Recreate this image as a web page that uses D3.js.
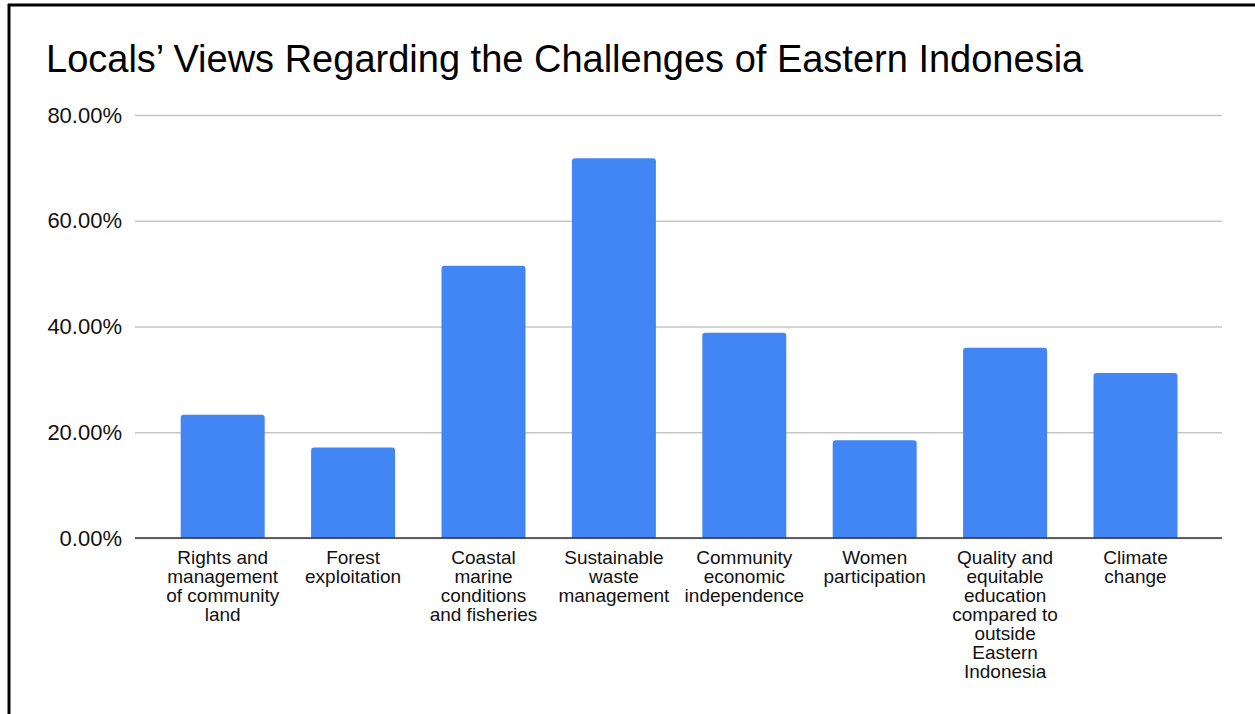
<!DOCTYPE html>
<html>
<head>
<meta charset="utf-8">
<script src="https://cdn.jsdelivr.net/npm/d3@7"></script>
<style>
  body { margin: 0; background: #fff; }
  svg { display: block; font-family: "Liberation Sans", Arial, sans-serif; }
</style>
</head>
<body>
<script>
const categories = [
  ["Rights and", "management", "of community", "land"],
  ["Forest", "exploitation"],
  ["Coastal", "marine", "conditions", "and fisheries"],
  ["Sustainable", "waste", "management"],
  ["Community", "economic", "independence"],
  ["Women", "participation"],
  ["Quality and", "equitable", "education", "compared to", "outside", "Eastern", "Indonesia"],
  ["Climate", "change"]
];
const values = [0.233, 0.171, 0.515, 0.718, 0.388, 0.185, 0.360, 0.312];
const yTicks = [0, 0.2, 0.4, 0.6, 0.8];
const title = "Locals\u2019 Views Regarding the Challenges of Eastern Indonesia";

const width = 1255,
      height = 714,
      plotLeft = 135,
      plotRight = 1222,
      plotTop = 115,
      plotBottom = 538;

let svg = d3.select('body')
            .append('svg')
            .attr('width', width)
            .attr('height', height);

// frame (top and left edges visible)
svg.append('line')
   .attr('x1', 8).attr('x2', width).attr('y1', 5).attr('y2', 5)
   .attr('stroke', '#000').attr('stroke-width', 3);
svg.append('line')
   .attr('x1', 9).attr('x2', 9).attr('y1', 4).attr('y2', height)
   .attr('stroke', '#000').attr('stroke-width', 3);

svg.append('text')
   .attr('x', 46)
   .attr('y', 72)
   .attr('font-size', 38)
   .attr('fill', '#000')
   .text(title);

let y = d3.scaleLinear()
          .domain([0, 0.8])
          .range([plotBottom, plotTop]);

let x = d3.scaleBand()
          .domain(d3.range(categories.length))
          .range([157.5, 1200.7])
          .paddingInner(0.356)
          .paddingOuter(0.178);

// gridlines + y labels
let yAxis = svg.append('g')
               .attr('transform', `translate(${plotLeft},0)`)
               .call(d3.axisLeft(y)
                       .tickValues(yTicks)
                       .tickSize(-(plotRight - plotLeft))
                       .tickPadding(13)
                       .tickFormat(d3.format('.2%')));
yAxis.select('.domain').remove();
yAxis.selectAll('.tick line').attr('stroke', '#c6c6c6').attr('stroke-width', 1.3);
yAxis.selectAll('.tick text')
     .attr('font-size', 22)
     .attr('fill', '#111')
     .attr('font-family', '"Liberation Sans", Arial, sans-serif');

// bars with rounded top corners
const r = 3;
svg.selectAll('path.bar')
   .data(values)
   .enter()
   .append('path')
   .attr('class', 'bar')
   .attr('fill', '#4285f4')
   .attr('d', (d, i) => {
       const x0 = x(i), x1 = x(i) + x.bandwidth(), y0 = y(d), yb = y(0);
       return `M${x0},${yb}V${y0 + r}Q${x0},${y0} ${x0 + r},${y0}H${x1 - r}Q${x1},${y0} ${x1},${y0 + r}V${yb}Z`;
   });

// baseline
svg.append('line')
   .attr('x1', plotLeft).attr('x2', plotRight)
   .attr('y1', y(0)).attr('y2', y(0))
   .attr('stroke', '#333').attr('stroke-width', 1.5);

// category labels
let labels = svg.selectAll('text.cat')
                .data(categories)
                .enter()
                .append('text')
                .attr('class', 'cat')
                .attr('text-anchor', 'middle')
                .attr('font-size', 19)
                .attr('fill', '#111')
                .attr('transform', (d, i) => `translate(${x(i) + x.bandwidth() / 2},${563.5})`);

labels.selectAll('tspan')
      .data(d => d)
      .enter()
      .append('tspan')
      .attr('x', 0)
      .attr('dy', (d, i) => i === 0 ? 0 : 19)
      .text(d => d);
</script>
</body>
</html>
